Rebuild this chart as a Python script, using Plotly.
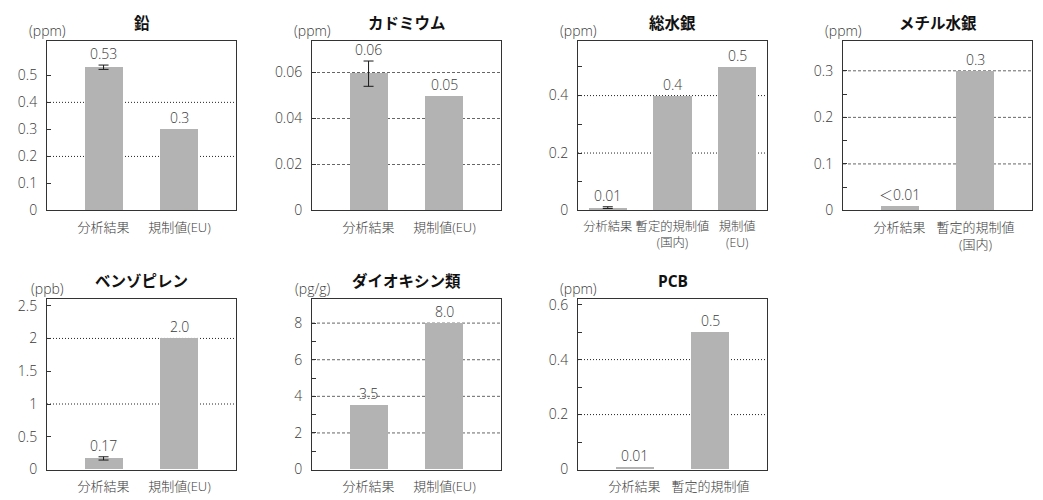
import plotly.graph_objects as go

# ---- chart data -------------------------------------------------------------
titles = ["鉛", "カドミウム", "総水銀", "メチル水銀", "ベンゾピレン", "ダイオキシン類", "PCB"]
units = ["(ppm)", "(ppm)", "(ppm)", "(ppm)", "(ppb)", "(pg/g)", "(ppm)"]

categories = [
    ["分析結果", "規制値(EU)"],
    ["分析結果", "規制値(EU)"],
    ["分析結果", "暫定的規制値<br>(国内)", "規制値<br>(EU)"],
    ["分析結果", "暫定的規制値<br>(国内)"],
    ["分析結果", "規制値(EU)"],
    ["分析結果", "規制値(EU)"],
    ["分析結果", "暫定的規制値"],
]

values = [
    [0.53, 0.3],
    [0.06, 0.05],
    [0.01, 0.4, 0.5],
    [0.01, 0.3],
    [0.17, 2.0],
    [3.5, 8.0],
    [0.01, 0.5],
]

value_labels = [
    ["0.53", "0.3"],
    ["0.06", "0.05"],
    ["0.01", "0.4", "0.5"],
    ["＜0.01", "0.3"],
    ["0.17", "2.0"],
    ["3.5", "8.0"],
    ["0.01", "0.5"],
]

# spread of the measured results (upper / lower); None = no error bar
err_plus = [
    [0.008, None],
    [0.005, None],
    [0.003, None, None],
    [None, None],
    [0.025, None],
    [None, None],
    [None, None],
]
err_minus = [
    [0.008, None],
    [0.006, None],
    [0.003, None, None],
    [None, None],
    [0.025, None],
    [None, None],
    [None, None],
]

y_ticks = [
    [0, 0.1, 0.2, 0.3, 0.4, 0.5],
    [0, 0.02, 0.04, 0.06],
    [0, 0.2, 0.4],
    [0, 0.1, 0.2, 0.3],
    [0, 0.5, 1, 1.5, 2, 2.5],
    [0, 2, 4, 6, 8],
    [0, 0.2, 0.4, 0.6],
]
y_minor = [
    [],
    [],
    [0.1, 0.3, 0.5],
    [0.05, 0.15, 0.25],
    [],
    [1, 3, 5, 7],
    [0.1, 0.3, 0.5],
]
grid_values = [
    [0.2, 0.4],
    [0.02, 0.04, 0.06],
    [0.2, 0.4],
    [0.1, 0.2, 0.3],
    [1, 2],
    [2, 4, 6, 8],
    [0.2, 0.4],
]
y_max = [0.627, 0.0737, 0.59, 0.364, 2.6, 9.31, 0.62]

# ---- layout geometry (pixels) ----------------------------------------------
W, H = 1043, 500
boxes = [  # left, right, top, bottom
    (47, 236, 38, 212),
    (312, 501, 38, 212),
    (578, 767, 38, 212),
    (843, 1032, 38, 212),
    (47, 236, 303, 478),
    (312, 501, 303, 478),
    (578, 767, 303, 478),
]
grid_style = ["dot", "dash", "dot", "dash", "dot", "dash", "dot"]

FONT = "Open Sans, Noto Sans CJK JP"
TEXT = "#3a3a3a"
BAR = "#b3b3b3"

fig = go.Figure()
annotations = []
shapes = []

for i in range(len(titles)):
    L, R, T, B = boxes[i]
    xa = "xaxis" if i == 0 else f"xaxis{i + 1}"
    ya = "yaxis" if i == 0 else f"yaxis{i + 1}"
    xr = "x" if i == 0 else f"x{i + 1}"
    yr = "y" if i == 0 else f"y{i + 1}"
    n = len(categories[i])
    xs = list(range(n))

    fig.add_trace(go.Bar(
        x=xs, y=values[i], xaxis=xr, yaxis=yr,
        width=0.5 if n == 2 else 0.59,
        marker=dict(color=BAR, line=dict(width=0)),
        showlegend=False, hoverinfo="skip",
    ))
    # error bars for the measured result only
    ex = [x for x, e in zip(xs, err_plus[i]) if e is not None]
    if ex:
        fig.add_trace(go.Scatter(
            x=ex, y=[values[i][x] for x in ex], xaxis=xr, yaxis=yr,
            mode="markers", marker=dict(size=1, opacity=0),
            error_y=dict(type="data", symmetric=False,
                         array=[err_plus[i][x] for x in ex],
                         arrayminus=[err_minus[i][x] for x in ex],
                         color="#1a1a1a", thickness=1, width=5),
            showlegend=False, hoverinfo="skip",
        ))

    xrange = [-0.745, 1.745] if n == 2 else [-0.46, 2.46]

    fig.layout[xa] = dict(
        domain=[L / W, R / W], anchor=yr, range=xrange,
        tickmode="array", tickvals=xs, ticktext=categories[i],
        ticks="", showline=True, mirror=True, linecolor="#333333",
        linewidth=1, showgrid=False, zeroline=False, fixedrange=True,
        tickangle=0, ticklabelstandoff=5,
        tickfont=dict(family=FONT, size=13 if n == 2 else 12.3,
                      color=TEXT, weight=300),
    )
    yaxis = dict(
        domain=[1 - B / H, 1 - T / H], anchor=xr, range=[0, y_max[i]],
        tickmode="array", tickvals=y_ticks[i],
        ticktext=[f"{v:g}" for v in y_ticks[i]],
        ticks="inside", ticklen=4, tickcolor="#333333",
        showline=True, mirror=True, linecolor="#333333", linewidth=1,
        showgrid=False, zeroline=False, fixedrange=True,
        ticklabelstandoff=6,
        tickfont=dict(family=FONT, size=14, color=TEXT, weight=300),
    )
    if y_minor[i]:
        yaxis["minor"] = dict(tickmode="array", tickvals=y_minor[i],
                              ticks="inside", ticklen=4, tickcolor="#333333",
                              showgrid=False)
    fig.layout[ya] = yaxis

    dash = "1px,2px" if grid_style[i] == "dot" else "3px,2px"
    gcol = "#222222" if grid_style[i] == "dot" else "#666666"
    for g in grid_values[i]:
        shapes.append(dict(type="line", xref=f"{xr} domain", yref=yr,
                           x0=0, x1=1, y0=g, y1=g, layer="below",
                           line=dict(color=gcol, width=1, dash=dash)))

    # value labels above bars (and above error bars)
    for j, v in enumerate(values[i]):
        top = v + (err_plus[i][j] or 0)
        annotations.append(dict(
            x=xs[j], y=top, xref=xr, yref=yr,
            text=value_labels[i][j], showarrow=False, yanchor="bottom",
            yshift=0, font=dict(family=FONT, size=14, color=TEXT, weight=300),
        ))

    # panel title and unit
    annotations.append(dict(
        x=(L + R) / 2 / W, y=1 - (T - 19) / H, xref="paper", yref="paper",
        text=f"<b>{titles[i]}</b>", showarrow=False,
        xanchor="center", yanchor="middle",
        font=dict(family=FONT, size=15.5, color="#111111"),
    ))
    annotations.append(dict(
        x=L / W, y=1 - (T - 11) / H, xref="paper", yref="paper",
        text=units[i], showarrow=False, xanchor="center", yanchor="middle",
        font=dict(family=FONT, size=14, color=TEXT, weight=300),
    ))

fig.update_layout(
    width=W, height=H, margin=dict(l=0, r=0, t=0, b=0),
    paper_bgcolor="white", plot_bgcolor="white",
    annotations=annotations, shapes=shapes, bargap=0,
)

fig.write_html("out.html", config={"displayModeBar": False})
